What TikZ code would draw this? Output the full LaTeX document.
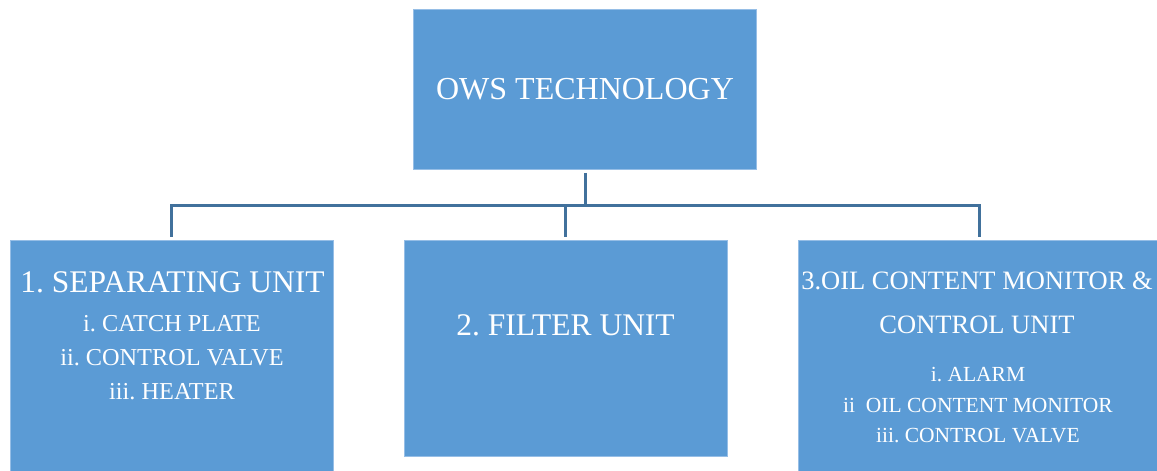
\documentclass[tikz,border=0pt]{standalone}
\usepackage{fontspec}
\setmainfont{Liberation Serif}
\frenchspacing
\definecolor{boxfill}{RGB}{91,155,213}
\definecolor{boxedge}{RGB}{150,190,230}
\definecolor{connclr}{RGB}{65,113,156}
\begin{document}
\frenchspacing
\begin{tikzpicture}[x=1pt,y=-1pt,
  box/.style={fill=boxfill,draw=boxedge,line width=0.8pt,inner sep=0pt},
  lbl/.style={text=white,anchor=base,inner sep=0pt},
  conn/.style={draw=connclr,line width=3pt}]
\useasboundingbox (0,0) rectangle (1157,471);
% boxes
\node[box,minimum width=343pt,minimum height=160pt] (top) at (585,89) {};
\node[box,minimum width=323pt,minimum height=235pt] (lbox) at (171.5,357.5) {};
\node[box,minimum width=323pt,minimum height=216pt] (mbox) at (565.5,348) {};
\node[box,minimum width=363pt,minimum height=235pt] (rbox) at (980,357.5) {};
% connectors
\coordinate (bus) at (585,205);
\draw[conn] ([yshift=-3.5pt]top.south) -- (bus);
\draw[conn] ([yshift=3pt]lbox.north) |- (bus) -| ([xshift=-1pt,yshift=3pt]rbox.north);
\draw[conn] ([yshift=3pt]mbox.north) -- (mbox.north |- bus);
% texts
\node[lbl,font=\fontsize{32}{38}\selectfont] (t0) at (585,99) {OWS TECHNOLOGY};
\node[lbl,font=\fontsize{31.5}{37}\selectfont] (t1) at (172.5,292) {1. SEPARATING UNIT};
\node[lbl,font=\fontsize{24.3}{28}\selectfont] (t1a) at (172,331) {i. CATCH PLATE};
\node[lbl,font=\fontsize{24.3}{28}\selectfont] (t1b) at (172,365) {ii. CONTROL VALVE};
\node[lbl,font=\fontsize{24.3}{28}\selectfont] (t1c) at (172,399) {iii. HEATER};
\node[lbl,font=\fontsize{31.5}{38}\selectfont] (t2) at (565.5,335) {2. FILTER UNIT};
\node[lbl,font=\fontsize{26.5}{32}\selectfont] (t3) at (977,289) {3.OIL CONTENT MONITOR \&};
\node[lbl,font=\fontsize{26.5}{32}\selectfont] (t3b) at (977,333) {CONTROL UNIT};
\node[lbl,font=\fontsize{21.5}{26}\selectfont] (t3c) at (978,381) {i. ALARM};
\node[lbl,font=\fontsize{21.5}{26}\selectfont] (t3d) at (978,412) {ii\ \ OIL CONTENT MONITOR};
\node[lbl,font=\fontsize{21.5}{26}\selectfont] (t3e) at (978,442) {iii. CONTROL VALVE};
\end{tikzpicture}
\end{document}
